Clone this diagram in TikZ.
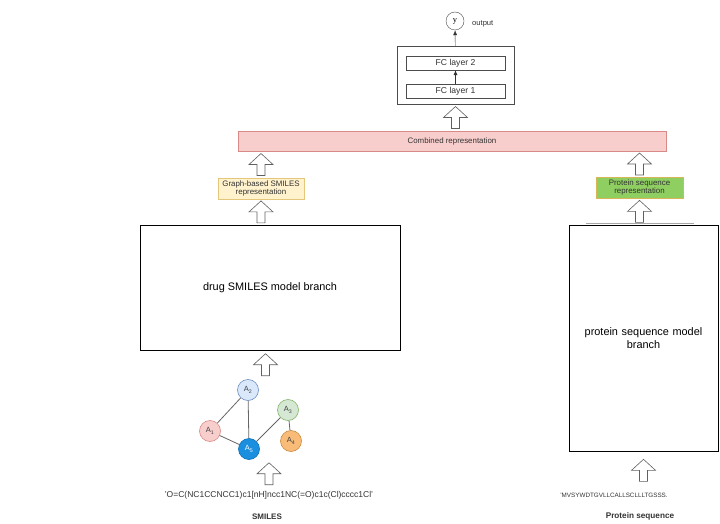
\documentclass[tikz,border=0pt]{standalone}
\usepackage{fontspec}
\setmainfont{Liberation Sans}
\newfontfamily\serify{Liberation Serif}
\usetikzlibrary{calc,fit,arrows.meta}

\definecolor{pinkfill}{HTML}{F8CECC}
\definecolor{pinkline}{HTML}{D88A88}
\definecolor{yelfill}{HTML}{FFF2CC}
\definecolor{yelline}{HTML}{E4C77A}
\definecolor{grnfill}{HTML}{8FCF62}
\definecolor{grnline}{HTML}{D6B656}
\definecolor{bluefill}{HTML}{DAE8FC}
\definecolor{blueline}{HTML}{6C8EBF}
\definecolor{mintfill}{HTML}{D5E8D4}
\definecolor{mintline}{HTML}{82B366}
\definecolor{orgfill}{HTML}{F8BB78}
\definecolor{orgline}{HTML}{C98A3E}
\definecolor{deepblue}{HTML}{1B8FDF}
\definecolor{deepline}{HTML}{0A6FB5}

\tikzset{hollowup/.pic={
  \draw[gray!75!black, fill=white, line width=0.6pt]
    (0,-11) -- (12,0) -- (4,0) -- (4,11) -- (-4,11) -- (-4,0) -- (-12,0) -- cycle;}}
\newcommand{\uparrowbetween}[2]{\pic at ($(#1)!0.5!(#1 |- #2)$) {hollowup};}

\begin{document}
\begin{tikzpicture}[x=1pt,y=-1pt,
  small/.style={font=\fontsize{8}{9}\selectfont, text=black!80},
  layer/.style={draw=black!70, minimum width=99, minimum height=14, inner sep=0pt, font=\fontsize{8.6}{9}\selectfont, text=black!80},
  rep/.style={minimum height=21, inner sep=1pt, align=center, font=\fontsize{7.9}{8.4}\selectfont, text=black!80},
  branch/.style={draw=black, line width=0.8pt, align=center, font=\fontsize{10.9}{13.5}\selectfont},
  atom/.style={circle, minimum size=21, inner sep=0pt, line width=0.6pt, font=\fontsize{7.5}{8}\selectfont, text=black!75},
  bond/.style={draw=gray!80!black, line width=0.8pt}]
\useasboundingbox (0,0) rectangle (720,524);

% head of the network
\node[circle, draw=black!70, minimum size=18, inner sep=0pt, font=\serify\fontsize{8.5}{9}\selectfont] (y) at (455,21) {y};
\node[right, inner sep=1pt, font=\fontsize{7.6}{8}\selectfont, text=black!80] (outlbl) at (471,24) {output};
\node[draw=black!70, minimum width=117, minimum height=58] (fc) at (455.5,75) {};
\node[layer] (fc2) at (455.5,63) {FC layer 2};
\node[layer] (fc1) at (455.5,91) {FC layer 1};
\draw[-{Latex[length=5pt,width=4pt]}, black!80] (fc1) -- (fc2);
\draw[-{Latex[length=5pt,width=4pt]}, black!80] (fc) -- (y);

\node[rep, draw=pinkline, fill=pinkfill, minimum width=428, minimum height=20] (comb) at (452,141) {Combined representation};

% drug side
\node[rep, draw=yelline, fill=yelfill, minimum width=86] (graphrep) at (261,188.5) {Graph-based SMILES\\representation};
\node[branch, minimum width=260, minimum height=125] (drug) at (270,287.5) {drug SMILES model branch};

\node[atom, draw=blueline, fill=bluefill] (a2) at (248,390) {A\textsubscript{2}};
\node[atom, draw=pinkline, fill=pinkfill] (a1) at (210,431) {A\textsubscript{1}};
\node[atom, draw=deepline, fill=deepblue, text=white] (a5) at (249,449) {A\textsubscript{5}};
\node[atom, draw=mintline, fill=mintfill] (a3) at (288,410) {A\textsubscript{3}};
\node[atom, draw=orgline, fill=orgfill] (a4) at (291,441) {A\textsubscript{4}};
\draw[bond] (a2) -- (a1);
\draw[bond] (a2) -- (a5);
\draw[bond] (a1) -- (a5);
\draw[bond] (a5) -- (a3);
\draw[bond] (a3) -- (a4);
\node[fit=(a1)(a2)(a3)(a4)(a5), inner sep=0pt] (mol) {};
\coordinate (molin) at ($(mol.north)+(15,0)$);

\node[small, font=\fontsize{8.5}{9}\selectfont] (smiles) at (269,495) {'O=C(NC1CCNCC1)c1[nH]ncc1NC(=O)c1c(Cl)cccc1Cl'};
\node[small, font=\bfseries\fontsize{8}{9}\selectfont] (smileslbl) at (267,517) {SMILES};

% protein side
\node[rep, draw=grnline, fill=grnfill, minimum width=87] (protrep) at (639.5,187.5) {Protein sequence\\representation};
\node[branch, minimum width=149, minimum height=226, text width=138pt] (prot) at (643.5,338) {protein sequence model\\branch};
\draw[gray!70, line width=0.8pt] ($(prot.north west)+(17,-1)$) -- ($(prot.north east)+(-24,-1)$);

\node[small, font=\fontsize{6.3}{8}\selectfont] (seq) at (614,495) {'MVSYWDTGVLLCALLSCLLLTGSSS.};
\node[small, font=\bfseries\fontsize{8.2}{9}\selectfont] (seqlbl) at (640,516) {Protein sequence};

% hollow arrows
\uparrowbetween{fc.south}{comb.north}
\uparrowbetween{graphrep.north}{comb.south}
\uparrowbetween{graphrep.south}{drug.north}
\uparrowbetween{molin}{drug.south}
\uparrowbetween{smiles.north}{mol.south}
\uparrowbetween{protrep.north}{comb.south}
\uparrowbetween{protrep.south}{prot.north}
\uparrowbetween{prot.south}{seq.north}
\end{tikzpicture}
\end{document}
